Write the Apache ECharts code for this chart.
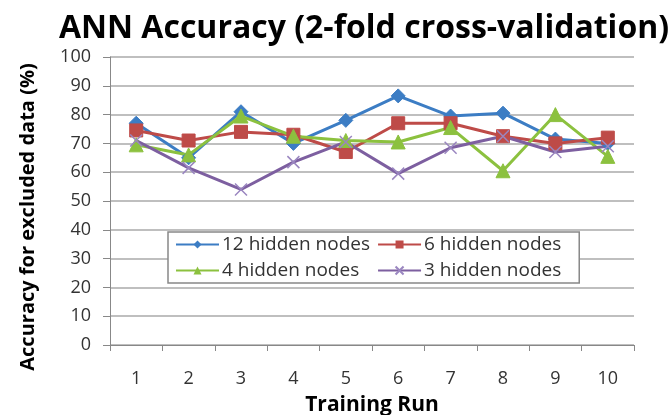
<!DOCTYPE html>
<html>
<head>
<meta charset="utf-8">
<script src="https://cdn.jsdelivr.net/npm/echarts@6/dist/echarts.min.js"></script>
<style>
  html, body { margin: 0; padding: 0; background: #fff; }
  #chart { width: 672px; height: 415px; }
</style>
</head>
<body>
<div id="chart"></div>
<script>
var runs = ['1', '2', '3', '4', '5', '6', '7', '8', '9', '10'];
var nodes12 = [77, 65, 81, 70, 78, 86.5, 79.5, 80.5, 71.5, 70];
var nodes6 = [74.5, 71, 74, 73, 67, 77, 77, 72.5, 70, 72];
var nodes4 = [69.5, 66, 79.5, 72.5, 71, 70.5, 75.5, 60.5, 80, 65.5];
var nodes3 = [71, 61.5, 54, 63.5, 70.5, 59.5, 68.5, 72.5, 67, 69];

var crossPath = 'path://M0,0L10,10M10,0L0,10';

var chart = echarts.init(document.getElementById('chart'));
var font = 'Open Sans';

function line(name, data, color, symbol, size) {
  return {
    name: name,
    type: 'line',
    data: data,
    symbol: symbol,
    symbolSize: size,
    lineStyle: { color: color, width: 3 },
    itemStyle: { color: color, borderColor: color },
    animation: false
  };
}

var crossSeries = line('3 hidden nodes', nodes3, '#7d5fa0', crossPath, 12);
crossSeries.itemStyle = { color: 'none', borderColor: '#9a86c0', borderWidth: 1.5 };

chart.setOption({
  backgroundColor: '#fff',
  title: {
    text: 'ANN Accuracy (2-fold cross-validation)',
    left: 359,
    textAlign: 'center',
    top: 8,
    textStyle: { fontFamily: font, fontSize: 32, fontWeight: 'bold', color: '#000' }
  },
  graphic: [{
    type: 'text',
    x: 28,
    y: 217,
    rotation: Math.PI / 2,
    style: {
      text: 'Accuracy for excluded data (%)',
      fontFamily: font,
      fontSize: 20,
      fontWeight: 'bold',
      fill: '#000',
      textAlign: 'center',
      textVerticalAlign: 'middle'
    }
  }],
  grid: { left: 110, right: 38, top: 57, bottom: 70, outerBoundsMode: 'none' },
  legend: {
    orient: 'vertical',
    left: 168,
    top: 232,
    height: 46,
    itemGap: 7,
    itemWidth: 43,
    itemHeight: 10,
    padding: [3, 18, 3, 7],
    borderColor: '#888',
    borderWidth: 1.5,
    backgroundColor: '#fff',
    textStyle: { fontFamily: font, fontSize: 19, color: '#333', padding: [0, 0, 0, -2] },
    data: ['12 hidden nodes', '4 hidden nodes', '6 hidden nodes', '3 hidden nodes']
  },
  xAxis: {
    type: 'category',
    data: runs,
    boundaryGap: true,
    name: 'Training Run',
    nameLocation: 'middle',
    nameGap: 50,
    nameTextStyle: { fontFamily: font, fontSize: 21, fontWeight: 'bold', color: '#000' },
    axisLine: { lineStyle: { color: '#888' } },
    axisTick: { show: true, length: 6, lineStyle: { color: '#888' } },
    axisLabel: { fontFamily: font, fontSize: 18, color: '#333', margin: 25 }
  },
  yAxis: {
    type: 'value',
    min: 0,
    max: 100,
    interval: 10,
    axisLine: { show: true, lineStyle: { color: '#888' } },
    axisTick: { show: true, length: 7, lineStyle: { color: '#888' } },
    axisLabel: { fontFamily: font, fontSize: 18, color: '#333', margin: 19 },
    splitLine: { lineStyle: { color: '#aaa', width: 1.5 } }
  },
  series: [
    line('12 hidden nodes', nodes12, '#3c7dc4', 'diamond', 14),
    line('6 hidden nodes', nodes6, '#be4b48', 'rect', 13),
    line('4 hidden nodes', nodes4, '#8cc13f', 'triangle', 14),
    crossSeries
  ]
});
</script>
</body>
</html>
